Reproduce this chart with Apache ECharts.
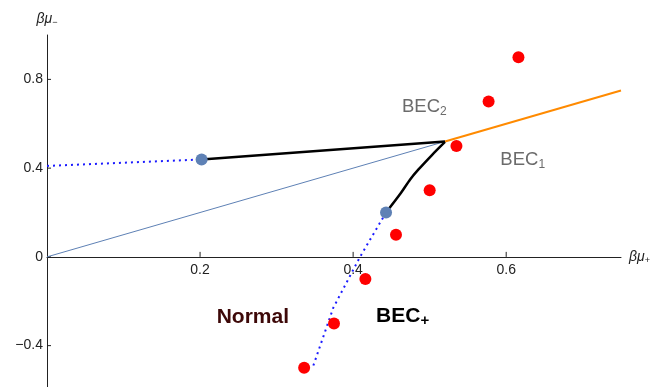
<!DOCTYPE html>
<html>
<head>
<meta charset="utf-8">
<script src="https://cdn.jsdelivr.net/npm/echarts@6/dist/echarts.min.js"></script>
<style>html,body{margin:0;padding:0;background:#fff}#c{width:667px;height:387px}</style>
</head>
<body>
<div id="c"></div>
<script>
// ---- data ----
var xTicks = [0.2, 0.4, 0.6];
var yTicks = [-0.4, 0, 0.4, 0.8];
var redX = [0.336, 0.375, 0.416, 0.456, 0.500, 0.535, 0.577, 0.616];
var redY = [-0.50, -0.30, -0.10, 0.10, 0.30, 0.50, 0.70, 0.90];
var blueDotX = [0.202, 0.443];
var blueDotY = [0.439, 0.200];
var upperDottedX = [0.000, 0.202];
var upperDottedY = [0.410, 0.439];
var lowerDottedX = [0.443, 0.409, 0.374, 0.348];
var lowerDottedY = [0.200, 0.000, -0.230, -0.490];
var upperBlackX = [0.202, 0.520];
var upperBlackY = [0.439, 0.520];
var lowerBlackX = [0.443, 0.4614, 0.4745, 0.4854, 0.503, 0.520];
var lowerBlackY = [0.200, 0.283, 0.349, 0.394, 0.459, 0.518];
var diagX = [0.0, 0.520];
var diagY = [0.0, 0.520];
var orangeX = [0.520, 0.750];
var orangeY = [0.520, 0.750];
var regionNames = ['BEC2', 'BEC1', 'Normal', 'BEC+'];
var regionX = [0.493, 0.6216, 0.269, 0.4647];
var regionY = [0.678, 0.437, -0.271, -0.267];

var Y_MIN = -0.6, Y_MAX = 1.0;
var GRID_TOP = 35, GRID_H = 355;

function zip(xs, ys) { return xs.map(function (x, i) { return [x, ys[i]]; }); }

var FONT = '"Liberation Sans", Arial, sans-serif';
var AXIS_COLOR = '#222';
var labelRich = {
  g: {fontFamily: FONT, fontSize: 18.5, color: '#6b6b6b', lineHeight: 22},
  gs: {fontFamily: FONT, fontSize: 12, color: '#6b6b6b', lineHeight: 11, verticalAlign: 'bottom'},
  n: {fontFamily: FONT, fontSize: 21, fontWeight: 'bold', color: '#3d0808', lineHeight: 24},
  b: {fontFamily: FONT, fontSize: 21, fontWeight: 'bold', color: '#000', lineHeight: 24},
  bs: {fontFamily: FONT, fontSize: 15, fontWeight: 'bold', color: '#000', lineHeight: 12, verticalAlign: 'bottom'}
};
var labelFmt = {
  'BEC2': '{g|BEC}{gs|2}',
  'BEC1': '{g|BEC}{gs|1}',
  'Normal': '{n|Normal}',
  'BEC+': '{b|BEC}{bs|+}'
};

// x axis sits at y = 0: offset it up from the grid bottom by the span below zero
var xAxisOffset = -GRID_H * (0 - Y_MIN) / (Y_MAX - Y_MIN);

// inward tick marks, placed through the axes' own scales
function tickRenderer(horizontal, len) {
  return function (params, api) {
    var p = api.coord([api.value(0), api.value(1)]);
    var x2 = horizontal ? p[0] : p[0] + len;
    var y2 = horizontal ? p[1] - len : p[1];
    return {type: 'line', shape: {x1: p[0], y1: p[1], x2: x2, y2: y2},
      style: {stroke: AXIS_COLOR, lineWidth: 1}};
  };
}

var chart = echarts.init(document.getElementById('c'), null, {renderer: 'canvas'});
chart.setOption({
  animation: false,
  backgroundColor: '#fff',
  grid: {left: 47, right: 46, top: GRID_TOP, height: GRID_H, containLabel: false, outerBoundsMode: 'none'},
  xAxis: {
    type: 'value', min: 0, max: 0.75, interval: 0.2, position: 'bottom', offset: xAxisOffset,
    name: '{a|βμ}{s|+}', nameLocation: 'end', nameGap: 8,
    nameTextStyle: {
      rich: {
        a: {fontFamily: FONT, fontSize: 14, fontStyle: 'italic', color: AXIS_COLOR, lineHeight: 16},
        s: {fontFamily: FONT, fontSize: 9, color: AXIS_COLOR, lineHeight: 8, verticalAlign: 'bottom'}
      }
    },
    axisLine: {onZero: false, lineStyle: {color: AXIS_COLOR, width: 1}},
    axisTick: {show: false},
    axisLabel: {customValues: xTicks, margin: 6, fontFamily: FONT, fontSize: 14, color: AXIS_COLOR,
      formatter: function (v) { return String(v); }},
    splitLine: {show: false}
  },
  yAxis: {
    type: 'value', min: Y_MIN, max: Y_MAX, interval: 0.2,
    name: '{a|βμ}{s|−}', nameLocation: 'end', nameGap: 8,
    nameTextStyle: {
      align: 'center',
      rich: {
        a: {fontFamily: FONT, fontSize: 14, fontStyle: 'italic', color: AXIS_COLOR, lineHeight: 16},
        s: {fontFamily: FONT, fontSize: 9, color: AXIS_COLOR, lineHeight: 8, verticalAlign: 'bottom'}
      }
    },
    axisLine: {onZero: false, lineStyle: {color: AXIS_COLOR, width: 1}},
    axisTick: {show: false},
    axisLabel: {customValues: yTicks, margin: 4, fontFamily: FONT, fontSize: 14, color: AXIS_COLOR,
      formatter: function (v) { return v < 0 ? '\u2212' + String(Math.abs(v)) : String(v); }},
    splitLine: {show: false}
  },
  series: [
    {type: 'custom', data: xTicks.map(function (v) { return [v, 0]; }), renderItem: tickRenderer(true, 5),
      silent: true, clip: false, z: 1},
    {type: 'custom', data: yTicks.map(function (v) { return [0, v]; }), renderItem: tickRenderer(false, 4),
      silent: true, clip: false, z: 1},
    {type: 'line', data: zip(diagX, diagY), symbol: 'none', silent: true,
      lineStyle: {color: '#5e81b5', width: 1}, z: 2},
    {type: 'line', data: zip(orangeX, orangeY), symbol: 'none', silent: true,
      lineStyle: {color: '#ff8a00', width: 2}, z: 3},
    {type: 'line', data: zip(upperDottedX, upperDottedY), symbol: 'none', silent: true,
      lineStyle: {color: '#1a1aff', width: 2, type: [2, 4]}, z: 3},
    {type: 'line', data: zip(lowerDottedX, lowerDottedY), symbol: 'none', silent: true,
      lineStyle: {color: '#1a1aff', width: 2, type: [2, 4]}, z: 3},
    {type: 'line', data: zip(upperBlackX, upperBlackY), symbol: 'none', silent: true,
      lineStyle: {color: '#000', width: 2.5}, z: 4},
    {type: 'line', data: zip(lowerBlackX, lowerBlackY), symbol: 'none', silent: true, smooth: 0.25,
      lineStyle: {color: '#000', width: 2.5}, z: 4},
    {type: 'scatter', data: zip(blueDotX, blueDotY), symbol: 'circle', symbolSize: 12,
      itemStyle: {color: '#5e81b5', opacity: 1}, z: 5},
    {type: 'scatter', data: zip(redX, redY), symbol: 'circle', symbolSize: 12,
      itemStyle: {color: '#ff0000', opacity: 1}, z: 6},
    {type: 'scatter', symbolSize: 0, z: 7, silent: true, itemStyle: {opacity: 1},
      data: regionNames.map(function (n, i) { return {value: [regionX[i], regionY[i]], name: n}; }),
      label: {show: true, position: 'inside', opacity: 1, rich: labelRich,
        formatter: function (p) { return labelFmt[p.name]; }}}
  ]
});
</script>
</body>
</html>
